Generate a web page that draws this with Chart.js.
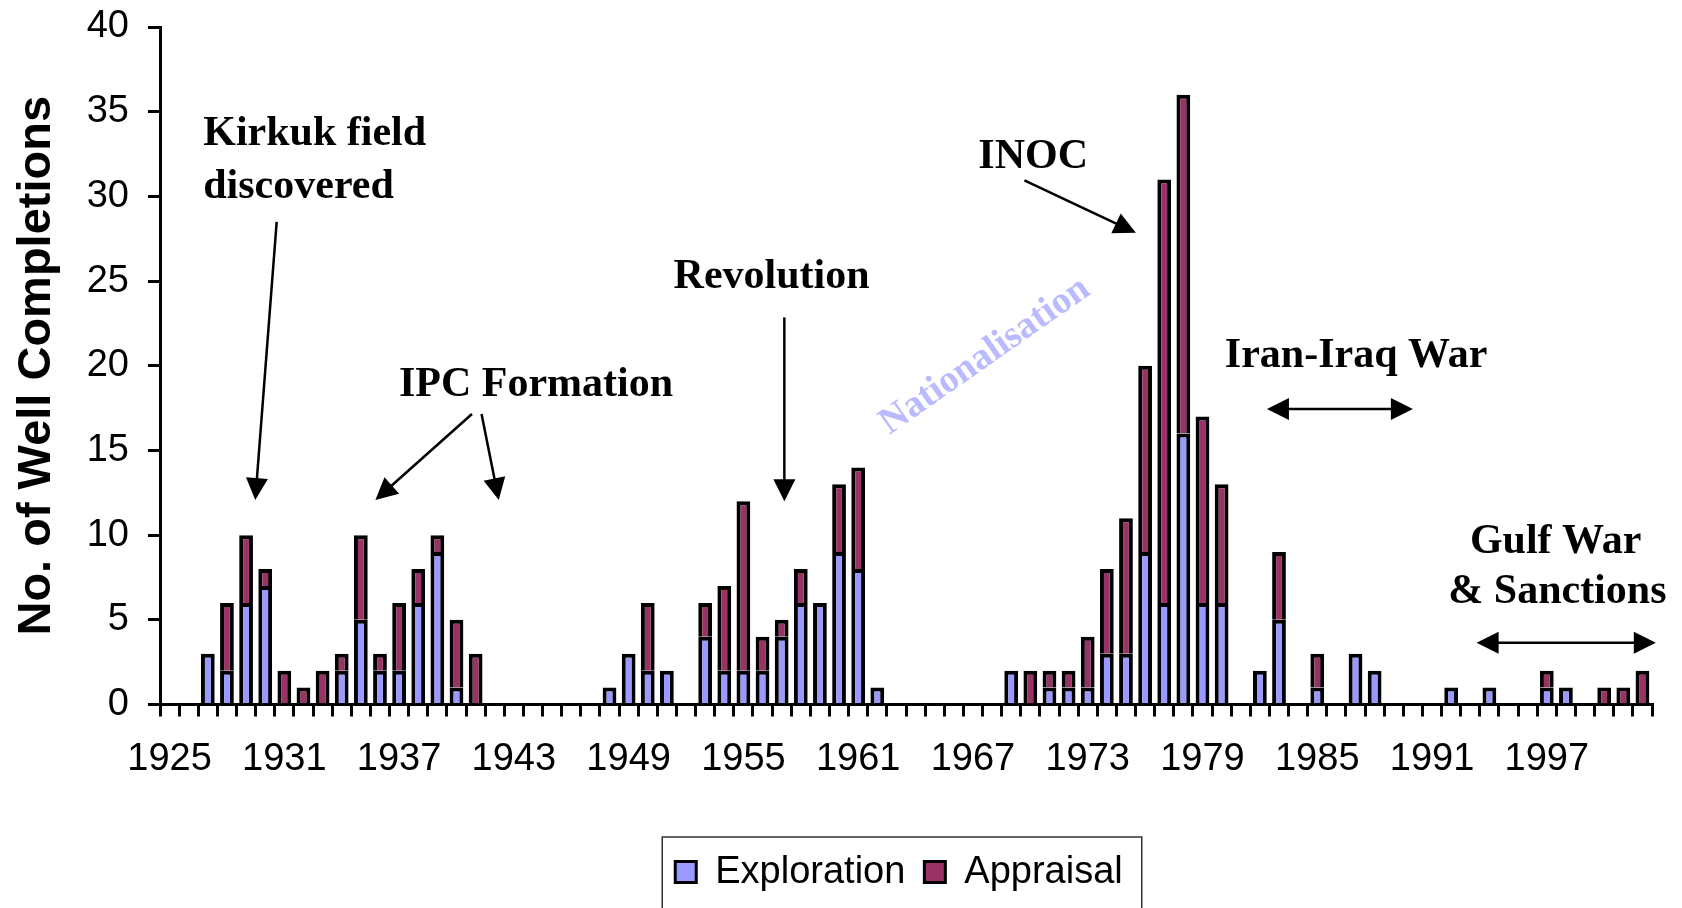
<!DOCTYPE html>
<html><head><meta charset="utf-8">
<script src="https://cdn.jsdelivr.net/npm/chart.js@4.4.1/dist/chart.umd.min.js"></script>
<style>html,body{margin:0;padding:0;background:#fff;}#wrap{width:1682px;height:908px;position:relative;}</style>
</head><body><div id="wrap"><canvas id="c"></canvas></div>
<script>
const years = ['1925','1926','1927','1928','1929','1930','1931','1932','1933','1934','1935','1936','1937','1938','1939','1940','1941','1942','1943','1944','1945','1946','1947','1948','1949','1950','1951','1952','1953','1954','1955','1956','1957','1958','1959','1960','1961','1962','1963','1964','1965','1966','1967','1968','1969','1970','1971','1972','1973','1974','1975','1976','1977','1978','1979','1980','1981','1982','1983','1984','1985','1986','1987','1988','1989','1990','1991','1992','1993','1994','1995','1996','1997','1998','1999','2000','2001','2002'];
const exploration = [0,0,3,2,6,7,0,0,0,2,5,2,2,6,9,1,0, 0,0,0,0,0,0, 1,3,2,2,0,4,2,2,2,4,6,6,9,8,1, 0,0,0,0,0,0, 2,0,1,1,1,3,3,9,6,16,6,6,0,2,5,0,1,0,3,2,0,0,0,1,0,1,0,0,1,1,0,0,0,0];
const appraisal   = [0,0,0,4,4,1,2,1,2,1,5,1,4,2,1,4,3, 0,0,0,0,0,0, 0,0,4,0,0,2,5,10,2,1,2,0,4,6,0, 0,0,0,0,0,0, 0,2,1,1,3,5,8,11,25,20,11,7,0,0,4,0,2,0,0,0,0,0,0,0,0,0,0,0,1,0,0,1,1,2];
const tickLabels = ['1925','1931','1937','1943','1949','1955','1961','1967','1973','1979','1985','1991','1997'];
const seriesNames = ['Exploration','Appraisal'];

// annotation anchors in data units (category index, value)
const noteTexts = [
  {t:'Kirkuk field', i:1.76, v:33.03},
  {t:'discovered', i:1.76, v:29.88},
  {t:'IPC Formation', i:11.99, v:18.2},
  {t:'Revolution', i:26.35, v:24.6},
  {t:'INOC', i:42.28, v:31.7},
  {t:'Iran-Iraq War', i:55.17, v:19.94},
  {t:'Gulf War', i:67.98, v:8.93},
  {t:'& Sanctions', i:66.85, v:5.97}
];
const noteArrows = [
  {from:[5.6,28.5], to:[4.48,12.07]},
  {from:[15.81,17.15], to:[10.76,12.07]},
  {from:[16.31,17.15], to:[17.21,12.07]},
  {from:[32.14,22.85], to:[32.14,12.0]},
  {from:[44.69,30.95], to:[50.52,27.85]},
  {from:[57.37,17.44], to:[65.0,17.44], both:true},
  {from:[68.33,3.65], to:[77.7,3.65], both:true}
];
const watermark = {t:'Nationalisation', i:42.63, v:20.57, angle:-35};

const SANS = '"Liberation Sans", Arial, sans-serif';
const SERIF = '"Liberation Serif", "Times New Roman", serif';

function arrowHead(ctx, x1, y1, x2, y2, len, hw){
  const a = Math.atan2(y2-y1, x2-x1);
  ctx.beginPath();
  ctx.moveTo(x2, y2);
  ctx.lineTo(x2 - len*Math.cos(a) + hw*Math.sin(a), y2 - len*Math.sin(a) - hw*Math.cos(a));
  ctx.lineTo(x2 - len*Math.cos(a) - hw*Math.sin(a), y2 - len*Math.sin(a) + hw*Math.cos(a));
  ctx.closePath();
  ctx.fill();
}

const notesPlugin = {
  id:'notes',
  beforeDatasetsDraw(chart){
    const ctx = chart.ctx, xs = chart.scales.x, ys = chart.scales.y;
    const cw = (xs.right - xs.left)/years.length;
    const px = i => xs.left + (i+0.5)*cw, py = v => ys.getPixelForValue(v);
    ctx.save();
    ctx.translate(px(watermark.i), py(watermark.v));
    ctx.rotate(watermark.angle*Math.PI/180);
    ctx.font = 'bold 38px ' + SERIF;
    ctx.fillStyle = '#babaff';
    ctx.textAlign = 'center';
    ctx.textBaseline = 'middle';
    ctx.fillText(watermark.t, 0, 0);
    ctx.restore();
  },
  afterDraw(chart){
    const ctx = chart.ctx, xs = chart.scales.x, ys = chart.scales.y;
    const cw = (xs.right - xs.left)/years.length;
    const px = i => xs.left + (i+0.5)*cw, py = v => ys.getPixelForValue(v);
    ctx.save();
    ctx.fillStyle = '#000';
    ctx.font = 'bold 42px ' + SERIF;
    ctx.textAlign = 'left';
    ctx.textBaseline = 'alphabetic';
    noteTexts.forEach(n => ctx.fillText(n.t, px(n.i), py(n.v)));
    ctx.strokeStyle = '#000';
    ctx.lineWidth = 2.5;
    const HL = 22, HW = 11;
    noteArrows.forEach(a => {
      const x1 = px(a.from[0]), y1 = py(a.from[1]), x2 = px(a.to[0]), y2 = py(a.to[1]);
      const ang = Math.atan2(y2-y1, x2-x1);
      const sx = a.both ? x1 + (HL-2)*Math.cos(ang) : x1, sy = a.both ? y1 + (HL-2)*Math.sin(ang) : y1;
      ctx.beginPath();
      ctx.moveTo(sx, sy);
      ctx.lineTo(x2 - (HL-2)*Math.cos(ang), y2 - (HL-2)*Math.sin(ang));
      ctx.stroke();
      arrowHead(ctx, x1, y1, x2, y2, HL, HW);
      if (a.both) arrowHead(ctx, x2, y2, x1, y1, HL, HW);
    });
    // legend box
    const ds = chart.data.datasets;
    ctx.font = '38px ' + SANS;
    const w = ds.map(d => ctx.measureText(d.label).width);
    const padL = 13, sq = 21, gapT = 19, gapItem = 19, padR = 19;
    const total = padL + ds.reduce((s,d,k)=> s + sq + gapT + w[k], 0) + gapItem*(ds.length-1) + padR;
    const cx = (chart.chartArea.left + chart.chartArea.right)/2 - 4;
    const bx = cx - total/2, by = xs.bottom + 52.5;
    ctx.strokeStyle = '#333';
    ctx.lineWidth = 1.5;
    ctx.strokeRect(bx, by, total, 80);
    let x = bx + padL;
    const midY = by + 35;
    ds.forEach((d,k) => {
      ctx.fillStyle = d.backgroundColor;
      ctx.fillRect(x, midY - sq/2, sq, sq);
      ctx.strokeStyle = '#000';
      ctx.lineWidth = 3;
      ctx.strokeRect(x, midY - sq/2, sq, sq);
      x += sq + gapT;
      ctx.fillStyle = '#000';
      ctx.textBaseline = 'middle';
      ctx.fillText(d.label, x, midY + 1);
      x += w[k] + gapItem;
    });
    ctx.restore();
  }
};

const nz = arr => arr.map(v => v === 0 ? null : v);
new Chart(document.getElementById('c'), {
  type:'bar',
  data:{
    labels: years,
    datasets:[
      {label:seriesNames[0], data:nz(exploration), backgroundColor:'#9999ff', borderColor:'#000000', borderWidth:4, borderSkipped:'start', inflateAmount:0},
      {label:seriesNames[1], data:nz(appraisal), backgroundColor:'#993366', borderColor:'#000000', borderWidth:4, borderSkipped:'start', inflateAmount:0}
    ]
  },
  options:{
    responsive:true, maintainAspectRatio:false, animation:false,
    layout:{padding:{top:27, right:30, left:0, bottom:123.5}},
    datasets:{bar:{barPercentage:0.72, categoryPercentage:1}},
    plugins:{legend:{display:false}, tooltip:{enabled:false}},
    scales:{
      x:{
        stacked:true,
        grid:{display:true, drawOnChartArea:false, drawTicks:true, tickLength:12, color:'#000', lineWidth:3, offset:true},
        border:{display:true, color:'#000', width:3},
        ticks:{autoSkip:false, maxRotation:0, minRotation:0, padding:20, color:'#000',
          font:{family:SANS, size:38, lineHeight:1.2},
          callback:(v,idx)=> tickLabels.includes(years[idx]) ? years[idx] : ''},
        afterFit:s=>{s.height = 80; s.paddingLeft = 0; s.paddingRight = 0;}
      },
      y:{
        stacked:true, min:0, max:40,
        grid:{display:true, drawOnChartArea:false, drawTicks:true, tickLength:12, color:'#000', lineWidth:3},
        border:{display:true, color:'#000', width:3},
        ticks:{stepSize:5, padding:19, color:'#000', font:{family:SANS, size:38}},
        title:{display:true, text:'No. of Well Completions', color:'#000', font:{family:SANS, size:47, weight:'bold', lineHeight:1}, padding:{top:14, bottom:0}},
        afterFit:s=>{s.width = 160; s.paddingTop = 0; s.paddingBottom = 0;}
      }
    }
  },
  plugins:[notesPlugin]
});
</script></body></html>
